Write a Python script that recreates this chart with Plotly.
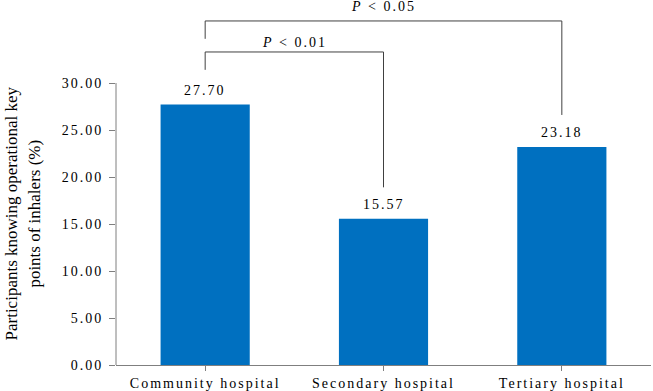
import plotly.graph_objects as go

# ---- data ----
categories = ["Community hospital", "Secondary hospital", "Tertiary hospital"]
values = [27.70, 15.57, 23.18]
y_ticks = [0, 5, 10, 15, 20, 25, 30]

# significance brackets: (left category index, right category index, label)
comp_left = [0, 0]
comp_right = [1, 2]
comp_labels = ["P < 0.01", "P < 0.05"]
bracket_top = [33.3, 36.6]
bracket_left_bottom = [31.4, 34.7]
bracket_right_bottom = [18.9, 26.6]
label_y = [34.35, 38.15]

y_title_lines = ["Participants knowing operational key", "points of inhalers (%)"]

# ---- styling ----
FONT = "Liberation Serif"
BAR_COLOR = "#0070C0"
AXIS_COLOR = "#7f7f7f"
BRACKET_COLOR = "#404040"


def spaced(t, sp=2):
    return f'<span style="letter-spacing:{sp}px">{t}</span>'


fig = go.Figure()
fig.add_trace(go.Bar(
    x=list(range(len(categories))),
    y=values,
    width=0.5,
    marker=dict(color=BAR_COLOR, line=dict(width=0)),
    hoverinfo="skip",
))

shapes = [
    # y axis line only up to 30
    dict(type="line", xref="paper", yref="y", x0=0, x1=0, y0=0, y1=max(y_ticks),
         line=dict(color=AXIS_COLOR, width=1)),
]
annotations = []

for i, v in enumerate(values):
    annotations.append(dict(
        x=i, y=v, xref="x", yref="y", text=spaced(f"{v:.2f}"), showarrow=False,
        yanchor="bottom", yshift=5, font=dict(family=FONT, size=14, color="black"),
    ))

for a, b, lab, top, lb, rb, ly in zip(comp_left, comp_right, comp_labels,
                                       bracket_top, bracket_left_bottom,
                                       bracket_right_bottom, label_y):
    ln = dict(color=BRACKET_COLOR, width=1)
    shapes.append(dict(type="line", xref="x", yref="y", x0=a, x1=a, y0=lb, y1=top, line=ln))
    shapes.append(dict(type="line", xref="x", yref="y", x0=a, x1=b, y0=top, y1=top, line=ln))
    shapes.append(dict(type="line", xref="x", yref="y", x0=b, x1=b, y0=top, y1=rb, line=ln))
    p, rest = lab.split(" ", 1)
    annotations.append(dict(
        x=(a + b) / 2, y=ly, xref="x", yref="y",
        text=spaced(f"<i>{p}</i> {rest}"), showarrow=False, yanchor="middle",
        font=dict(family=FONT, size=14, color="black"),
    ))

annotations.append(dict(
    x=-0.1748, y=0.4164, xref="paper", yref="paper", textangle=-90,
    text="<br>".join(y_title_lines), showarrow=False,
    xanchor="center", yanchor="middle",
    font=dict(family=FONT, size=17, color="black"),
))

fig.update_layout(
    width=653, height=391,
    margin=dict(l=116, r=2, t=0, b=26, autoexpand=False),
    paper_bgcolor="white", plot_bgcolor="white",
    showlegend=False,
    bargap=0.5,
    shapes=shapes,
    annotations=annotations,
    font=dict(family=FONT),
    xaxis=dict(
        range=[-0.5, len(categories) - 0.5],
        tickmode="array",
        tickvals=list(range(len(categories))),
        ticktext=[spaced(c) for c in categories],
        showline=True, linecolor=AXIS_COLOR, linewidth=1,
        ticks="outside", ticklen=5, tickcolor=AXIS_COLOR, tickwidth=1,
        showgrid=False, zeroline=False,
        tickfont=dict(family=FONT, size=14, color="black"),
        automargin=False,
    ),
    yaxis=dict(
        range=[0, 365 / 9.4],
        tickmode="array",
        tickvals=y_ticks,
        ticktext=[spaced(f"{t:.2f}") for t in y_ticks],
        showline=False,
        ticks="outside", ticklen=6, tickcolor=AXIS_COLOR, tickwidth=1,
        ticklabelstandoff=3,
        showgrid=False, zeroline=False,
        tickfont=dict(family=FONT, size=14, color="black"),
        automargin=False,
    ),
)

# boundary ticks on the x axis (between categories)
fig.update_xaxes(tickson="boundaries")

fig.write_html(
    "out.html",
    config={"displayModeBar": False},
    post_script="document.body.style.margin='0';document.body.style.overflow='hidden';",
)
